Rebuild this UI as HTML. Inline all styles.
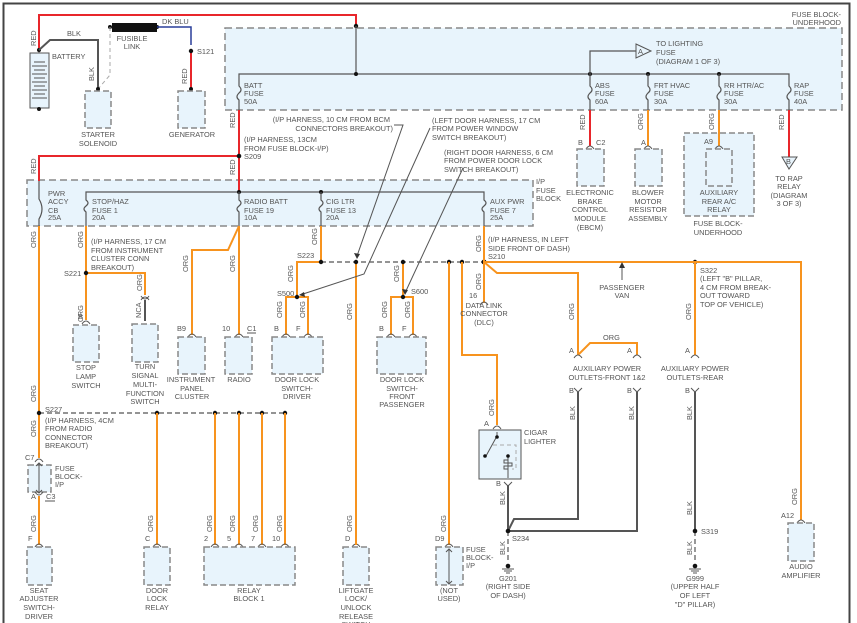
<!DOCTYPE html>
<html><head><meta charset="utf-8"><style>
html,body{margin:0;padding:0;background:#fff;}
svg{display:block}
text{font-family:"Liberation Sans",sans-serif;font-size:7.4px;fill:#555;}
.m{text-anchor:middle}
.e{text-anchor:end}
.r{stroke:#e8262b;stroke-width:2;fill:none}
.o{stroke:#f7931e;stroke-width:2;fill:none}
.g{stroke:#555;stroke-width:1.2;fill:none}
.k{stroke:#555;stroke-width:2;fill:none}
.d{stroke:#555;stroke-width:1.2;fill:none;stroke-dasharray:5,3}
.bx{fill:#e8f4fc;stroke:#888;stroke-width:1.5;stroke-dasharray:6,3}
.blk{fill:#e8f4fc;stroke:#888;stroke-width:1.5;stroke-dasharray:7,4}
.c{stroke:#555;stroke-width:1;fill:none}
</style></head><body>
<svg width="857" height="623" viewBox="0 0 857 623" xmlns="http://www.w3.org/2000/svg">
<rect x="3.5" y="3.5" width="846" height="640" fill="#fff" stroke="#444" stroke-width="2"/>
<!-- blocks -->
<rect class="blk" x="225" y="28" width="617" height="82"/>
<rect class="blk" x="27" y="180" width="506" height="46"/>
<rect class="bx" x="684" y="133" width="70" height="83"/>
<!-- top red -->
<path class="r" d="M39 50 V15 H356 V26"/>
<circle cx="356" cy="26" r="2.2" fill="#111"/>
<path class="g" d="M356 26 V74"/>
<!-- battery -->
<rect x="30" y="53" width="19" height="55" fill="#e8f4fc" stroke="#555" stroke-width="1"/>
<g stroke="#555" stroke-width="1"><path d="M34 62h11M32 66h15M34 70h11M32 74h15M34 78h11M32 82h15M34 86h11M32 90h15M34 94h11M32 98h15"/><path d="M39 53v-3M39 108v1"/></g>
<circle cx="39" cy="50" r="2" fill="#111"/><circle cx="39" cy="109" r="2" fill="#111"/>
<text x="52" y="59">BATTERY</text>
<text transform="rotate(-90 36 46)" x="36" y="46">RED</text>
<path class="k" d="M39 50 L50 40 H98 V89"/>
<text x="67" y="36">BLK</text>
<text transform="rotate(-90 94 81)" x="94" y="81">BLK</text>
<rect x="112" y="23" width="45" height="9" fill="#111"/>
<circle cx="110" cy="27" r="2" fill="#111"/><circle cx="157" cy="27" r="2" fill="#111"/>
<path d="M157 27 H191 V45" stroke="#2a3f9a" stroke-width="1.5" fill="none"/>
<text x="162" y="24">DK BLU</text>
<text class="m" x="132" y="41">FUSIBLE</text><text class="m" x="132" y="49">LINK</text>
<path d="M110 27 V75 L98 89" stroke="#aaa" stroke-width="1" stroke-dasharray="4,3" fill="none"/>
<path class="r" d="M191 51 V89"/>
<circle cx="191" cy="51" r="2.2" fill="#111"/><text x="197" y="54">S121</text>
<text transform="rotate(-90 187 84)" x="187" y="84">RED</text>
<circle cx="98" cy="89" r="2" fill="#111"/><circle cx="191" cy="89" r="2" fill="#111"/>
<rect class="bx" x="85" y="91" width="26" height="37"/>
<rect class="bx" x="178" y="91" width="27" height="37"/>
<text class="m" x="98" y="137">STARTER</text><text class="m" x="98" y="146">SOLENOID</text>
<text class="m" x="192" y="137">GENERATOR</text>
<!-- underhood -->
<text class="e" x="841" y="17">FUSE BLOCK-</text><text class="e" x="841" y="25">UNDERHOOD</text>
<path class="g" d="M239 84 V74 H789 V84"/>
<g fill="#111"><circle cx="356" cy="74" r="2"/><circle cx="590" cy="74" r="2"/><circle cx="648" cy="74" r="2"/><circle cx="719" cy="74" r="2"/></g>
<g class="g">
<path d="M239 84v2 q4 4 0 7 q-4 4 0 7 v10"/><path d="M590 74v12 q4 4 0 7 q-4 4 0 7 v10"/><path d="M648 74v12 q4 4 0 7 q-4 4 0 7 v10"/><path d="M719 74v12 q4 4 0 7 q-4 4 0 7 v10"/><path d="M789 84v2 q4 4 0 7 q-4 4 0 7 v10"/>
</g>
<text x="244" y="88">BATT</text><text x="244" y="96">FUSE</text><text x="244" y="104">50A</text>
<text x="595" y="88">ABS</text><text x="595" y="96">FUSE</text><text x="595" y="104">60A</text>
<text x="654" y="88">FRT HVAC</text><text x="654" y="96">FUSE</text><text x="654" y="104">30A</text>
<text x="724" y="88">RR HTR/AC</text><text x="724" y="96">FUSE</text><text x="724" y="104">30A</text>
<text x="794" y="88">RAP</text><text x="794" y="96">FUSE</text><text x="794" y="104">40A</text>
<path class="g" d="M590 74 V51 H636"/>
<path d="M636 44 L651 51 L636 58 Z" fill="#e8f4fc" stroke="#555"/><text x="638" y="54">A</text>
<text x="656" y="46">TO LIGHTING</text><text x="656" y="55">FUSE</text><text x="656" y="64">(DIAGRAM 1 OF 3)</text>
<path class="r" d="M590 110 V146"/><path class="o" d="M648 110 V146"/><path class="o" d="M719 110 V146"/><path class="r" d="M789 110 V157"/>
<text transform="rotate(-90 585 130)" x="585" y="130">RED</text>
<text transform="rotate(-90 643 130)" x="643" y="130">ORG</text>
<text transform="rotate(-90 714 130)" x="714" y="130">ORG</text>
<text transform="rotate(-90 784 130)" x="784" y="130">RED</text>
<g class="c"><path d="M586 149 q4 -6 8 0"/><path d="M644 149 q4 -6 8 0"/><path d="M715 149 q4 -6 8 0"/></g>
<text x="578" y="145">B</text><text x="596" y="145">C2</text><text x="641" y="145">A</text><text x="704" y="144">A9</text>
<rect class="bx" x="577" y="149" width="27" height="37"/><rect class="bx" x="635" y="149" width="27" height="37"/><rect class="bx" x="706" y="149" width="26" height="37"/>
<g class="m"><text x="590" y="195">ELECTRONIC</text><text x="590" y="204">BRAKE</text><text x="590" y="212">CONTROL</text><text x="590" y="221">MODULE</text><text x="590" y="230">(EBCM)</text>
<text x="648" y="195">BLOWER</text><text x="648" y="204">MOTOR</text><text x="648" y="212">RESISTOR</text><text x="648" y="221">ASSEMBLY</text>
<text x="719" y="195">AUXILIARY</text><text x="719" y="204">REAR A/C</text><text x="719" y="212">RELAY</text><text x="718" y="226">FUSE BLOCK-</text><text x="718" y="235">UNDERHOOD</text>
<text x="789" y="181">TO RAP</text><text x="789" y="189">RELAY</text><text x="789" y="198">(DIAGRAM</text><text x="789" y="206">3 OF 3)</text></g>
<path d="M782 157 L797 157 L789 169 Z" fill="#e8f4fc" stroke="#555"/><text x="786" y="164">B</text>
<!-- red to IP -->
<path class="r" d="M239 110 V192 M39 181 V156 H239"/>
<circle cx="239" cy="156" r="2.3" fill="#111"/>
<text transform="rotate(-90 235 128)" x="235" y="128">RED</text>
<text transform="rotate(-90 235 175)" x="235" y="175">RED</text>
<text transform="rotate(-90 36 174)" x="36" y="174">RED</text>
<text x="244" y="142">(I/P HARNESS, 13CM</text><text x="244" y="151">FROM FUSE BLOCK-I/P)</text><text x="244" y="159">S209</text>
<!-- IP block -->
<text x="536" y="184">I/P</text><text x="536" y="193">FUSE</text><text x="536" y="201">BLOCK</text>
<path class="g" d="M86 199 V192 H484 V199"/>
<g fill="#111"><circle cx="239" cy="192" r="2"/><circle cx="321" cy="192" r="2"/></g>
<path class="g" d="M39 181 V199 q6 10 0 20 v7"/>
<g class="g"><path d="M86 199v1 q4 3 0 6 q-4 3 0 6 v14"/><path d="M239 192v8 q4 3 0 6 q-4 3 0 6 v14"/><path d="M321 192v8 q4 3 0 6 q-4 3 0 6 v14"/><path d="M484 199v1 q4 3 0 6 q-4 3 0 6 v14"/></g>
<text x="48" y="196">PWR</text><text x="48" y="204">ACCY</text><text x="48" y="213">CB</text><text x="48" y="220">25A</text>
<text x="92" y="204">STOP/HAZ</text><text x="92" y="213">FUSE 1</text><text x="92" y="220">20A</text>
<text x="244" y="204">RADIO BATT</text><text x="244" y="213">FUSE 19</text><text x="244" y="220">10A</text>
<text x="326" y="204">CIG LTR</text><text x="326" y="213">FUSE 13</text><text x="326" y="220">20A</text>
<text x="490" y="204">AUX PWR</text><text x="490" y="213">FUSE 7</text><text x="490" y="220">25A</text>
<!-- left orange -->
<path class="o" d="M39 226 V458 M39 496 V545"/>
<text transform="rotate(-90 36 248)" x="36" y="248">ORG</text>
<text transform="rotate(-90 36 402)" x="36" y="402">ORG</text>
<text transform="rotate(-90 36 437)" x="36" y="437">ORG</text>
<text transform="rotate(-90 36 532)" x="36" y="532">ORG</text>
<path class="d" d="M39 413 H285"/>
<g fill="#111"><circle cx="39" cy="413" r="2.2"/><circle cx="157" cy="413" r="2.2"/><circle cx="215" cy="413" r="2.2"/><circle cx="239" cy="413" r="2.2"/><circle cx="262" cy="413" r="2.2"/><circle cx="285" cy="413" r="2.2"/></g>
<text x="45" y="412">S227</text>
<text x="45" y="423">(I/P HARNESS, 4CM</text><text x="45" y="431">FROM RADIO</text><text x="45" y="440">CONNECTOR</text><text x="45" y="448">BREAKOUT)</text>
<rect class="bx" x="28" y="465" width="23" height="27"/>
<path class="c" d="M35 462 q4 -6 8 0 M35 492 q4 6 8 0 M39 463 V493 M36 466 l3 -3 l3 3 M36 490 l3 3 l3 -3"/>
<text x="25" y="460">C7</text><text x="31" y="499">A</text><text x="46" y="499">C3</text><path class="c" d="M45 501h10"/>
<text x="55" y="471">FUSE</text><text x="55" y="479">BLOCK-</text><text x="55" y="487">I/P</text>
<path class="o" d="M157 413 V545 M215 413 V545 M239 413 V545 M262 413 V545 M285 413 V545"/>
<g><text transform="rotate(-90 153 532)" x="153" y="532">ORG</text><text transform="rotate(-90 212 532)" x="212" y="532">ORG</text><text transform="rotate(-90 235 532)" x="235" y="532">ORG</text><text transform="rotate(-90 258 532)" x="258" y="532">ORG</text><text transform="rotate(-90 282 532)" x="282" y="532">ORG</text><text transform="rotate(-90 352 532)" x="352" y="532">ORG</text><text transform="rotate(-90 446 532)" x="446" y="532">ORG</text></g>
<g class="c"><path d="M35 547 q4 -6 8 0"/><path d="M153 547 q4 -6 8 0"/><path d="M211 547 q4 -6 8 0"/><path d="M235 547 q4 -6 8 0"/><path d="M258 547 q4 -6 8 0"/><path d="M281 547 q4 -6 8 0"/><path d="M352 547 q4 -6 8 0"/></g>
<text x="28" y="541">F</text><text x="145" y="541">C</text><text x="204" y="541">2</text><text x="227" y="541">5</text><text x="251" y="541">7</text><text x="272" y="541">10</text><text x="345" y="541">D</text>
<rect class="bx" x="27" y="547" width="25" height="38"/><rect class="bx" x="144" y="547" width="26" height="38"/><rect class="bx" x="204" y="547" width="91" height="38"/><rect class="bx" x="343" y="547" width="26" height="38"/>
<g class="m"><text x="39" y="593">SEAT</text><text x="39" y="601">ADJUSTER</text><text x="39" y="610">SWITCH-</text><text x="39" y="619">DRIVER</text>
<text x="157" y="593">DOOR</text><text x="157" y="601">LOCK</text><text x="157" y="610">RELAY</text>
<text x="249" y="593">RELAY</text><text x="249" y="601">BLOCK 1</text>
<text x="356" y="593">LIFTGATE</text><text x="356" y="601">LOCK/</text><text x="356" y="610">UNLOCK</text><text x="356" y="619">RELEASE</text><text x="356" y="627">SWITCH</text></g>
<!-- stop/haz -->
<path class="o" d="M86 226 V320 M86 273 H145 V295"/>
<circle cx="86" cy="273" r="2.2" fill="#111"/><text x="64" y="276">S221</text>
<text transform="rotate(-90 83 248)" x="83" y="248">ORG</text><text transform="rotate(-90 83 322)" x="83" y="322">ORG</text><text transform="rotate(-90 142 291)" x="142" y="291">ORG</text>
<text x="91" y="244">(I/P HARNESS, 17 CM</text><text x="91" y="253">FROM INSTRUMENT</text><text x="91" y="261">CLUSTER CONN</text><text x="91" y="270">BREAKOUT)</text>
<path class="c" d="M141 300 q4 -6 8 0 M141 296 q4 6 8 0"/><path class="k" d="M145 300 V321"/>
<text transform="rotate(-90 141 318)" x="141" y="318">NCA</text>
<path class="c" d="M82 324 q4 -6 8 0"/><text x="78" y="319">B</text>
<rect class="bx" x="73" y="325" width="26" height="37"/><rect class="bx" x="132" y="324" width="26" height="38"/>
<g class="m"><text x="86" y="370">STOP</text><text x="86" y="379">LAMP</text><text x="86" y="388">SWITCH</text>
<text x="145" y="369">TURN</text><text x="145" y="378">SIGNAL</text><text x="145" y="387">MULTI-</text><text x="145" y="396">FUNCTION</text><text x="145" y="404">SWITCH</text></g>
<!-- radio batt -->
<path class="o" d="M239 226 V335 M239 226 L228 250 H192 V335"/>
<text transform="rotate(-90 188 272)" x="188" y="272">ORG</text><text transform="rotate(-90 235 272)" x="235" y="272">ORG</text>
<g class="c"><path d="M188 337 q4 -6 8 0"/><path d="M235 337 q4 -6 8 0"/></g>
<text x="177" y="331">B9</text><text x="222" y="331">10</text><text x="247" y="331">C1</text><path class="c" d="M247 333h9"/>
<rect class="bx" x="178" y="337" width="27" height="37"/><rect class="bx" x="225" y="337" width="27" height="37"/>
<g class="m"><text x="191" y="382">INSTRUMENT</text><text x="192" y="391">PANEL</text><text x="192" y="399">CLUSTER</text><text x="239" y="382">RADIO</text></g>
<!-- cig ltr -->
<path class="o" d="M321 226 V262 M321 262 H297 V297 M286 335 V297 H308 V335 M356 262 V545 M403 262 V297 M391 335 V297 H413 V335"/>
<path class="d" d="M321 262 H484"/>
<g fill="#111"><circle cx="321" cy="262" r="2.2"/><circle cx="356" cy="262" r="2.2"/><circle cx="403" cy="262" r="2.2"/><circle cx="449" cy="262" r="2.2"/><circle cx="462" cy="262" r="2.2"/><circle cx="484" cy="262" r="2.5"/><circle cx="297" cy="297" r="2.2"/><circle cx="403" cy="297" r="2.2"/><circle cx="695" cy="262" r="2.2"/></g>
<text x="297" y="258">S223</text><text x="277" y="296">S500</text><text x="411" y="294">S600</text>
<text transform="rotate(-90 317 245)" x="317" y="245">ORG</text><text transform="rotate(-90 293 282)" x="293" y="282">ORG</text><text transform="rotate(-90 399 282)" x="399" y="282">ORG</text><text transform="rotate(-90 352 320)" x="352" y="320">ORG</text>
<text transform="rotate(-90 282 318)" x="282" y="318">ORG</text><text transform="rotate(-90 305 318)" x="305" y="318">ORG</text><text transform="rotate(-90 387 318)" x="387" y="318">ORG</text><text transform="rotate(-90 410 318)" x="410" y="318">ORG</text>
<g class="c"><path d="M282 337 q4 -6 8 0"/><path d="M304 337 q4 -6 8 0"/><path d="M387 337 q4 -6 8 0"/><path d="M409 337 q4 -6 8 0"/></g>
<text x="274" y="331">B</text><text x="296" y="331">F</text><text x="379" y="331">B</text><text x="402" y="331">F</text>
<rect class="bx" x="272" y="337" width="51" height="37"/><rect class="bx" x="377" y="337" width="49" height="37"/>
<g class="m"><text x="297" y="382">DOOR LOCK</text><text x="297" y="391">SWITCH-</text><text x="297" y="399">DRIVER</text>
<text x="402" y="382">DOOR LOCK</text><text x="402" y="391">SWITCH-</text><text x="402" y="399">FRONT</text><text x="402" y="407">PASSENGER</text></g>
<!-- annotations -->
<text class="e" x="390" y="122">(I/P HARNESS, 10 CM FROM BCM</text><text class="e" x="393" y="131">CONNECTORS BREAKOUT)</text>
<path class="c" d="M394 125 H403 L357 256"/><path d="M354 253 L357 259 L360 254 Z" fill="#333"/>
<text x="432" y="123">(LEFT DOOR HARNESS, 17 CM</text><text x="432" y="131">FROM POWER WINDOW</text><text x="432" y="140">SWITCH BREAKOUT)</text>
<path class="c" d="M430 128 L364 274 L300 295"/><path d="M304 292 L299 295 L305 297 Z" fill="#333"/>
<text x="444" y="155">(RIGHT DOOR HARNESS, 6 CM</text><text x="444" y="163">FROM POWER DOOR LOCK</text><text x="444" y="172">SWITCH BREAKOUT)</text>
<path class="c" d="M463 168 L405 293"/><path d="M402 289 L405 295 L408 290 Z" fill="#333"/>
<!-- right side -->
<path class="o" d="M449 262 V545 M462 262 V355 H497 V425 M484 226 V303 M484 262 L497 273 H578 V355 M484 262 H801 V520 M695 262 V355 M578 355 L590 343 H637 V355"/>
<text transform="rotate(-90 481 252)" x="481" y="252">ORG</text><text transform="rotate(-90 481 290)" x="481" y="290">ORG</text>
<text x="488" y="242">(I/P HARNESS, IN LEFT</text><text x="488" y="251">SIDE FRONT OF DASH)</text><text x="488" y="259">S210</text>
<text x="469" y="298">16</text><path class="c" d="M480 305 q4 -6 8 0"/>
<g class="m"><text x="484" y="308">DATA LINK</text><text x="484" y="316">CONNECTOR</text><text x="484" y="325">(DLC)</text></g>
<text class="m" x="622" y="290">PASSENGER</text><text class="m" x="622" y="298">VAN</text>
<path class="c" d="M622 280 V265"/><path d="M619 268 L622 262 L625 268 Z" fill="#333"/>
<text x="700" y="273">S322</text><text x="700" y="281">(LEFT "B" PILLAR,</text><text x="700" y="290">4 CM FROM BREAK-</text><text x="700" y="298">OUT TOWARD</text><text x="700" y="307">TOP OF VEHICLE)</text>
<text transform="rotate(-90 574 320)" x="574" y="320">ORG</text><text transform="rotate(-90 691 320)" x="691" y="320">ORG</text><text transform="rotate(-90 797 505)" x="797" y="505">ORG</text>
<text x="603" y="340">ORG</text>
<g class="c"><path d="M574 358 q4 -6 8 0"/><path d="M633 358 q4 -6 8 0"/><path d="M691 358 q4 -6 8 0"/><path d="M574 388 l4 4 l4 -4"/><path d="M633 388 l4 4 l4 -4"/><path d="M691 388 l4 4 l4 -4"/><path d="M797 523 q4 -6 8 0"/><path d="M445 547 q4 -6 8 0"/></g>
<text x="569" y="353">A</text><text x="627" y="353">A</text><text x="685" y="353">A</text><text x="569" y="393">B</text><text x="627" y="393">B</text><text x="685" y="393">B</text>
<g class="m"><text x="607" y="371">AUXILIARY POWER</text><text x="607" y="380">OUTLETS-FRONT 1&amp;2</text><text x="695" y="371">AUXILIARY POWER</text><text x="695" y="380">OUTLETS-REAR</text></g>
<path class="k" d="M578 392 V519 H514 L508 531 M637 392 V531 H508 M695 392 V531 M508 485 V531"/>
<path class="d" stroke-width="2" d="M508 531 V563 M695 531 V563"/>
<g fill="#111"><circle cx="508" cy="531" r="2.3"/><circle cx="695" cy="531" r="2.3"/><circle cx="508" cy="566" r="2.3"/><circle cx="695" cy="566" r="2.3"/></g>
<path class="c" d="M502 569h12M504 571h8M506 573h4M689 569h12M691 571h8M693 573h4"/>
<text transform="rotate(-90 575 420)" x="575" y="420">BLK</text><text transform="rotate(-90 634 420)" x="634" y="420">BLK</text><text transform="rotate(-90 692 420)" x="692" y="420">BLK</text><text transform="rotate(-90 692 515)" x="692" y="515">BLK</text><text transform="rotate(-90 692 555)" x="692" y="555">BLK</text><text transform="rotate(-90 505 505)" x="505" y="505">BLK</text><text transform="rotate(-90 505 555)" x="505" y="555">BLK</text>
<text x="512" y="541">S234</text><text x="701" y="534">S319</text>
<g class="m"><text x="508" y="581">G201</text><text x="508" y="589">(RIGHT SIDE</text><text x="508" y="598">OF DASH)</text>
<text x="695" y="581">G999</text><text x="695" y="589">(UPPER HALF</text><text x="695" y="598">OF LEFT</text><text x="695" y="607">"D" PILLAR)</text>
<text x="801" y="569">AUDIO</text><text x="801" y="578">AMPLIFIER</text><text x="449" y="593">(NOT</text><text x="449" y="601">USED)</text></g>
<text transform="rotate(-90 494 416)" x="494" y="416">ORG</text><text transform="rotate(-90 446 530)" x="446" y="530"> </text>
<text x="484" y="426">A</text><path class="c" d="M493 429 q4 -6 8 0"/>
<rect x="479" y="430" width="42" height="49" fill="#e8f4fc" stroke="#555" stroke-width="1"/>
<path class="c" d="M497 432 V436 L486 456 M508 456 V478"/>
<path d="M493 445 H516 V469 H512" stroke="#aaa" stroke-width="1" stroke-dasharray="4,3" fill="none"/>
<path class="c" d="M508 456 v4 h-4 v3 h8 v3 h-8 v3 h4"/>
<g fill="#111"><circle cx="497" cy="437" r="1.8"/><circle cx="485" cy="456" r="1.8"/><circle cx="508" cy="456" r="1.8"/></g>
<path class="c" d="M504 482 l4 4 l4 -4"/><text x="496" y="486">B</text>
<text x="524" y="435">CIGAR</text><text x="524" y="444">LIGHTER</text>
<text x="435" y="541">D9</text><rect class="bx" x="436" y="547" width="27" height="38"/><path class="c" d="M449 549 V584 M446 552 l3 -3 l3 3 M446 581 l3 3 l3 -3"/>
<text x="466" y="552">FUSE</text><text x="466" y="560">BLOCK-</text><text x="466" y="568">I/P</text>
<text x="781" y="518">A12</text><rect class="bx" x="788" y="523" width="26" height="38"/>
</svg>
</body></html>
